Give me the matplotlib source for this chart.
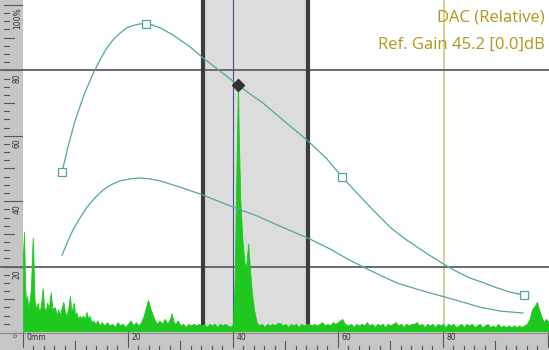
import matplotlib
matplotlib.use("Agg")
import matplotlib.pyplot as plt
from matplotlib.patches import Rectangle

# ---------------- data ----------------
# DAC reference points (mm, % FSH)
dac_pts_mm = [7.43, 23.43, 60.76, 95.43]
dac_pts_pct = [48.9, 94.2, 47.4, 11.3]
peak_mm = [40.95]
peak_pct = [75.5]

# upper DAC curve
dac_mm = [7.43, 8.57, 9.90, 11.62, 13.33, 14.67, 16.00, 17.14, 18.48, 19.81, 20.95,
          22.29, 23.43, 24.57, 26.10, 28.57, 31.81, 34.29, 37.52, 40.95, 43.24,
          45.71, 49.52, 54.10, 57.90, 60.76, 63.62, 66.67, 69.90, 72.57, 75.05,
          77.71, 80.38, 82.86, 85.14, 87.81, 90.29, 92.76, 95.43]
dac_pct = [48.9, 56.6, 64.5, 72.5, 78.9, 83.2, 86.9, 89.3, 91.4, 93.0, 93.7,
           94.2, 94.2, 93.9, 93.0, 90.8, 87.2, 83.8, 79.8, 75.5, 72.8,
           70.0, 64.8, 58.7, 52.9, 47.4, 42.5, 37.3, 32.1, 28.7, 26.0,
           23.2, 20.5, 18.3, 16.5, 15.0, 13.5, 12.2, 11.3]

# lower curve
low_mm = [7.43, 8.38, 9.52, 10.86, 12.19, 13.71, 15.24, 16.76, 18.48, 20.38, 22.29,
          24.19, 26.10, 29.90, 33.71, 36.57, 40.0, 44.57, 49.33, 54.29, 58.48,
          61.52, 64.76, 68.0, 71.24, 75.62, 80.38, 83.62, 87.05, 90.86, 95.24]
low_pct = [23.5, 27.2, 31.2, 34.9, 38.2, 41.0, 43.4, 45.0, 46.2, 46.8, 47.1,
           46.8, 46.2, 44.3, 42.2, 40.4, 38.2, 35.5, 32.1, 28.7, 25.4,
           22.6, 19.9, 17.4, 15.0, 12.8, 10.7, 9.2, 7.6, 6.4, 5.8]

# A-scan signal (mm, % FSH)
sig_mm = [0.0, 0.2, 0.4, 0.6, 0.8, 1.0, 1.2, 1.5, 1.85, 2.0, 2.2, 2.5, 2.8, 3.1, 3.4, 3.75,
          4.0, 4.3, 4.6, 4.9, 5.28, 5.6, 6.1, 6.4, 6.7, 7.0, 7.3, 7.68, 8.0, 8.3, 8.6,
          8.95, 9.2, 9.7, 9.9, 10.2, 10.5, 10.8, 11.1, 11.4, 11.8, 12.1, 12.4, 12.7, 13.0,
          13.4, 13.8, 14.2, 14.6, 15.0,
          15.5, 16, 16.5, 17, 17.5, 18, 18.5, 19, 19.5, 20, 20.5, 21, 21.5, 22, 22.5, 23,
          23.5, 23.8, 24.3, 25, 25.5, 26, 26.5, 27, 27.5, 28, 28.3, 28.7, 29, 29.5, 30, 30.5,
          31, 31.5, 32, 32.5, 33, 33.5, 34, 34.5, 35, 35.5, 36, 36.5, 37, 37.5, 38, 38.5,
          39, 39.5, 40,
          40.3, 40.6, 40.95, 41.1, 41.4, 41.8, 42.2, 42.5, 42.9, 43.2, 43.6, 44.0, 44.5, 45,
          45.5, 46, 46.5, 47, 47.5, 48, 48.4, 49, 49.5, 50, 50.5, 51, 51.5, 52, 52.5, 53,
          53.5, 54, 54.5, 55, 55.5, 56, 56.5, 57, 57.5, 58, 58.5, 59, 59.5, 60, 60.8, 61.3,
          62, 62.5, 63, 63.5, 64, 64.5, 65, 65.5, 66, 66.5, 67, 67.5, 68, 68.5, 69, 69.5,
          70, 70.5, 71, 71.5, 72, 72.5, 73, 73.5, 74, 74.5, 75, 75.5, 76, 76.5, 77, 77.5,
          78, 78.5, 79, 79.5, 80, 80.5, 81, 81.5, 82, 82.5, 83, 83.5, 84, 84.5, 85, 85.5,
          86, 86.5, 87, 87.5, 88, 88.5, 89, 89.5, 90, 90.5, 91, 91.5, 92, 92.5, 93, 93.5,
          94, 94.5, 95, 95.5, 96, 96.5, 97, 97.5, 97.9, 98.3, 98.7, 99.2, 99.6, 100.2]
sig_pct = [24, 30.6, 14, 8, 11, 7, 9, 13, 28.8, 22, 10, 7, 9, 6, 8, 13.4,
           8, 6, 9, 7, 12.2, 7, 7.6, 5, 7, 5, 7, 9.2, 6, 5, 7,
           11, 6, 8.9, 5, 6, 4, 5, 4, 5, 4, 6.1, 4, 5, 3,
           3.5, 2.5, 3.5, 2, 3,
           2, 3, 2, 2.5, 1.5, 3, 2, 2.5, 1.5, 2.5, 3.5, 2, 3, 2, 3, 5,
           8, 9.8, 7, 4, 2.5, 3.5, 2.5, 4, 2.5, 4, 5.8, 3, 2.5, 3.5, 2, 2.5,
           1.5, 2.5, 2, 2.5, 2, 2.5, 2, 2.5, 1.5, 2.5, 2, 2.5, 1.5, 2.5, 2, 2.5,
           2, 1.5, 2.5,
           15, 45, 75.5, 60, 40, 28, 21, 20, 27, 20, 12, 7, 3, 2,
           2.5, 1.5, 2.5, 2, 2.5, 2, 2.7, 2.7, 2, 2.5, 1.5, 2.5, 2, 2.5, 1.5, 2.5,
           2, 2.5, 2.5, 2, 2.5, 2, 2.5, 3, 2, 2.5, 2, 3, 2.5, 3, 4, 2.5,
           2, 2.5, 1.5, 2.5, 2, 2.5, 2, 3, 2, 2.5, 1.5, 2.5, 2, 2.5, 1.5, 2.5,
           2, 2.5, 3, 2, 2.5, 1.5, 2.5, 2, 2.5, 2.5, 3, 2, 2.5, 1.5, 2.5, 2,
           2.5, 1.5, 2.5, 2, 2.5, 1.5, 2.5, 2, 2.5, 1.5, 2, 2.5, 1.5, 2.5, 2, 2.5,
           1.5, 2, 2.5, 1.5, 2, 2.5, 1.5, 2, 1.5, 2.5, 1.5, 2, 1.5, 2, 1.5, 2,
           1.5, 2, 1.5, 2, 2.5, 4, 7, 8, 9.2, 7, 5, 3, 4, 3]

gate_mm = [34.3, 54.3]
cursor_mm = 40.0
marker_mm = 80.2
ref_levels = [80, 20]
x_labels = ["0mm", "20", "40", "60", "80"]
x_label_pos = [0, 20, 40, 60, 80]
y_labels = ["100%", "80", "60", "40", "20"]
y_label_pos = [100, 80, 60, 40, 20]
title1 = "DAC (Relative)"
title2 = "Ref. Gain 45.2 [0.0]dB"

# ---------------- figure ----------------
W, H = 549, 350
fig = plt.figure(figsize=(W / 100, H / 100), dpi=100)
fig.patch.set_facecolor("white")

L, B = 23, 18  # ruler sizes in px
XMAX, YMAX = 100.2, 101.5
ruler_col = "#c6c6c6"

ax = fig.add_axes([L / W, B / H, (W - L) / W, (H - B) / H])
ax.set_xlim(0, XMAX)
ax.set_ylim(0, YMAX)
ax.set_facecolor("white")
for s in ax.spines.values():
    s.set_visible(False)
ax.set_xticks([])
ax.set_yticks([])

# gate
ax.axvspan(gate_mm[0], gate_mm[1], color="#dcdcdc", zorder=0, lw=0)
for g in gate_mm:
    ax.axvline(g, color="#3c3c3c", lw=3.0, zorder=3)
ax.axvline(cursor_mm, color="#4a4a9a", lw=0.8, zorder=3)
ax.axvline(marker_mm, color="#cccc80", lw=1.2, zorder=2)

for r in ref_levels:
    ax.axhline(r, color="#606060", lw=1.3, zorder=2)

# curves
teal = "#4fa79c"
ax.plot(dac_mm, dac_pct, color=teal, lw=0.9, zorder=4)
ax.plot(low_mm, low_pct, color=teal, lw=0.9, zorder=4)
ax.plot(dac_pts_mm, dac_pts_pct, ls="none", marker="s", ms=5.5, mfc="white",
        mec=teal, mew=0.9, zorder=5)
ax.plot(peak_mm, peak_pct, ls="none", marker="D", ms=6, color="#333333", zorder=6)

# signal
ax.fill_between(sig_mm, 0, sig_pct, color="#1ec81e", lw=0.6, zorder=3.5)

# header text
fig.text(545 / W, 1 - 18 / H, title1, ha="right", va="center", color="#b3961a",
         fontsize=12, family="Open Sans", weight="medium")
fig.text(545 / W, 1 - 45 / H, title2, ha="right", va="center", color="#b3961a",
         fontsize=12, family="Open Sans", weight="medium")

# left ruler
axl = fig.add_axes([0, B / H, L / W, (H - B) / H])
axl.set_xlim(0, L)
axl.set_ylim(0, YMAX)
axl.set_facecolor(ruler_col)
for s in axl.spines.values():
    s.set_visible(False)
axl.set_xticks([])
axl.set_yticks([])
for i in range(0, 41):
    v = i * 2.5
    if v % 20 == 0:
        x0, x1 = 4, L
    elif v % 10 == 0:
        x0, x1 = 4, 14
    else:
        x0, x1 = 4, 9
    axl.plot([x0, x1], [v, v], color="#555555", lw=0.8)
for r in ref_levels:
    axl.plot([0, L], [r, r], color="#606060", lw=1.3)
for lab, v in zip(y_labels, y_label_pos):
    axl.text(17.5, v - 0.8, lab, rotation=90, ha="center", va="top",
             fontsize=5.5, color="#333333")
axl.plot([L - 0.5, L - 0.5], [0, YMAX], color="#8a8a8a", lw=0.8)

# bottom ruler
axb = fig.add_axes([0, 0, 1, B / H])
axb.set_xlim(-L / (W - L) * XMAX, XMAX)
axb.set_ylim(0, B)
axb.set_facecolor(ruler_col)
for s in axb.spines.values():
    s.set_visible(False)
axb.set_xticks([])
axb.set_yticks([])
for i in range(0, 51):
    v = i * 2
    if v % 20 == 0:
        y0, y1 = 3, B
    elif v % 10 == 0:
        y0, y1 = 0, 9
    else:
        y0, y1 = 0, 4
    axb.plot([v, v], [y0, y1], color="#555555", lw=0.8)
for lab, v in zip(x_labels, x_label_pos):
    axb.text(v + 0.6, B - 1.5, lab, ha="left", va="top", fontsize=5.5, color="#333333")
axb.text(-0.8, B - 1.5, "0", ha="right", va="top", fontsize=4.5, color="#333333",
         rotation=90)
axb.plot([-L / (W - L) * XMAX, XMAX], [B - 0.5, B - 0.5], color="#8a8a8a", lw=0.8)

fig.savefig("out.png", dpi=100)
